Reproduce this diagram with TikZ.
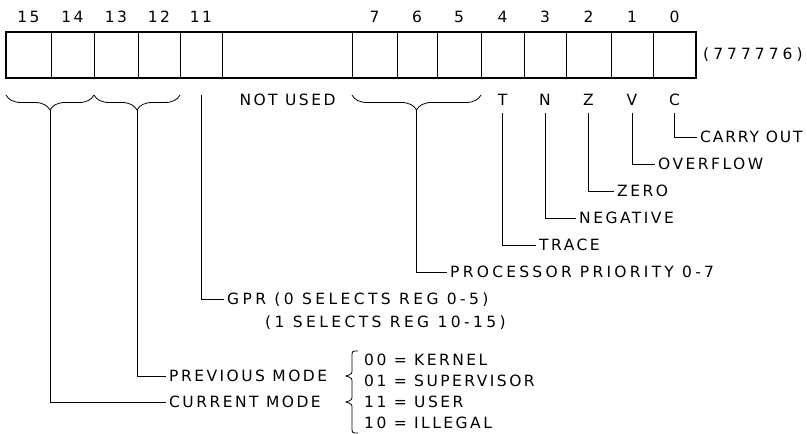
\documentclass[tikz,border=0pt]{standalone}
\usepackage{fontspec}
\setmainfont{DejaVu Sans}[LetterSpace=16]
\usetikzlibrary{decorations.pathreplacing}
\begin{document}
\begin{tikzpicture}[x=1pt,y=-1pt,
  txt/.style={font=\fontsize{15.5}{18}\selectfont, inner sep=0pt},
  lbl/.style={txt, anchor=west, inner sep=3pt, text height=11.3pt, text depth=0pt},
  num/.style={txt, text height=11.3pt, text depth=0pt},
  flag/.style={txt, text height=11.3pt, text depth=0pt, outer sep=7pt},
  cell/.style={draw, line width=0.9pt, inner sep=0pt, outer sep=0pt, minimum height=46pt},
  conn/.style={line width=0.8pt},
  brc/.style={conn, decorate, decoration={brace, amplitude=15pt, mirror}}]
\useasboundingbox (0,0) rectangle (807,434);
% register cells
\foreach \a/\b/\n in {6/51/15,51/94/14,94/138/13,138/180/12,180/222/11,352/397/7,397/437/6,437/481/5,481/524/4,524/566/3,566/611/2,611/653/1,653/696/0}{
  \node[cell, minimum width={(\b-\a)*1pt}] (c\n) at ({(\a+\b)/2},55) {};
  \node[num] (n\n) at ({(\a+\b)/2},17) {\n};
}
\node[cell, minimum width=130pt] (cnu) at (287,55) {};
\draw[line width=1.5pt] (c15.north west) rectangle (c0.south east);
\node[txt, anchor=west] (addr) at (703,55) {\addfontfeatures{LetterSpace=26}(777776)};
\node[num] (nu) at (287.5,100) {NOT USED};
% flag letters
\node[flag] (T) at (502.5,100) {T};
\node[flag] (N) at (545,100) {N};
\node[flag] (Z) at (588.5,100) {Z};
\node[flag] (V) at (632,100) {V};
\node[flag] (C) at (674.5,100) {C};
% labels
\node[lbl] (carry) at (697,137) {\addfontfeatures{LetterSpace=12}CARRY OUT};
\node[lbl] (ovf) at (655,164) {OVERFLOW};
\node[lbl] (zero) at (614,191) {ZERO};
\node[lbl] (neg) at (576,218) {NEGATIVE};
\node[lbl] (trace) at (536,245) {TRACE};
\node[lbl] (ppri) at (447,272) {\addfontfeatures{LetterSpace=21}PROCESSOR PRIORITY 0-7};
\node[lbl] (gpr) at (224,299) {\addfontfeatures{LetterSpace=22}GPR (0 SELECTS REG 0-5)};
\node[lbl] (gpr2) at (262,322) {\addfontfeatures{LetterSpace=22}(1 SELECTS REG 10-15)};
\node[lbl] (prev) at (166,376) {PREVIOUS MODE};
\node[lbl] (cur) at (166,402) {CURRENT MODE};
\node[lbl, inner sep=0pt] (m0) at (364,360) {00 = KERNEL};
\node[lbl, inner sep=0pt] (m1) at (364,381) {01 = SUPERVISOR};
\node[lbl, inner sep=0pt] (m2) at (364,402) {11 = USER};
\node[lbl, inner sep=0pt] (m3) at (364,423) {10 = ILLEGAL};
% braces
\draw[brc] (6,95) -- (94,95);
\draw[brc] (94,95) -- (180,95);
\draw[brc] (352,95) -- (481,95);
\coordinate (t1) at (50,110);
\coordinate (t2) at (137,110);
\coordinate (t3) at (416.5,110);
\coordinate (g11) at (201,95);
% connectors
\draw[conn] (C.south) |- (carry.west);
\draw[conn] (V.south) |- (ovf.west);
\draw[conn] (Z.south) |- (zero.west);
\draw[conn] (N.south) |- (neg.west);
\draw[conn] (T.south) |- (trace.west);
\draw[conn] (t3) |- (ppri.west);
\draw[conn] (g11) |- (gpr.west);
\draw[conn] (t2) |- (prev.west);
\draw[conn] (t1) |- (cur.west);
% mode brace
\draw[conn] (358,351) .. controls (352,351) .. (352,357) -- (352,369)
  .. controls (352,374) .. (346,376) .. controls (352,378) .. (352,383) -- (352,395)
  .. controls (352,400) .. (346,402) .. controls (352,404) .. (352,409) -- (352,427)
  .. controls (352,433) .. (358,433);
\end{tikzpicture}
\end{document}
